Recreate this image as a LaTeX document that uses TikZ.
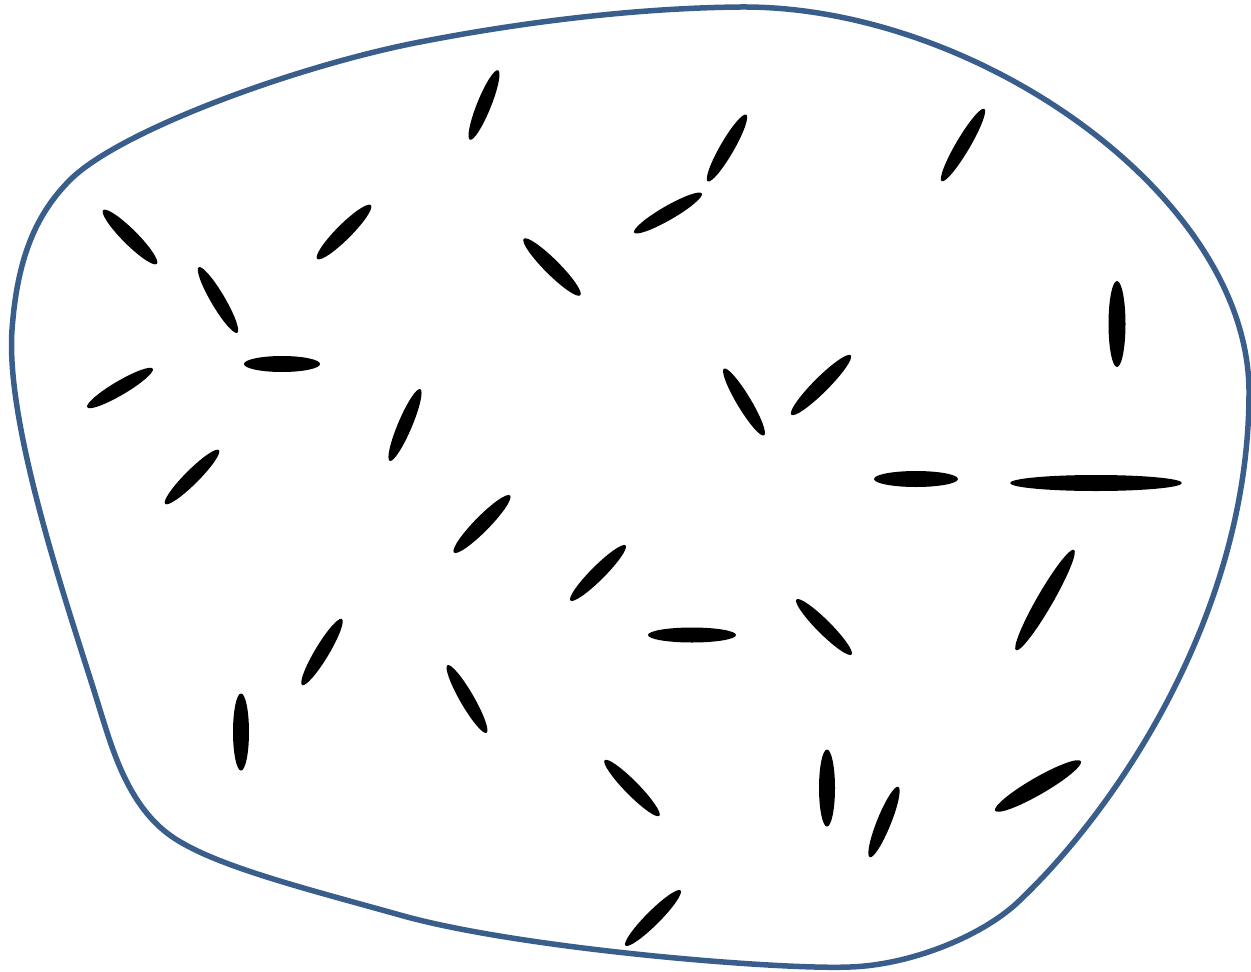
\documentclass[tikz,border=0pt]{standalone}
\definecolor{blobblue}{RGB}{58,94,140}
\tikzset{
  molstyle/.style={fill=black},
  blobstyle/.style={draw=blobblue, line width=5.5pt, line join=round}
}
\newcommand{\molecule}[5]{\fill[molstyle, rotate around={#3:(#1,-#2)}] (#1,-#2) ellipse [x radius=#4pt, y radius=#5pt];}
\begin{document}
\begin{tikzpicture}[x=1pt,y=1pt]
\useasboundingbox (0,0) rectangle (1251,-972);
\draw[blobstyle] (740,-7) .. controls (975,-5) and (1247,-195) .. (1249,-390)
 .. controls (1250,-610) and (1119,-807) .. (1017,-903)
 .. controls (980,-937) and (910,-965) .. (850,-967)
 .. controls (780,-970) and (520,-949) .. (400,-915)
 .. controls (300,-887) and (207,-864) .. (167,-833)
 .. controls (127,-802) and (112,-748) .. (100,-710)
 .. controls (74,-624) and (5,-430) .. (12,-330)
 .. controls (17,-260) and (35,-215) .. (70,-180)
 .. controls (120,-130) and (300,-65) .. (420,-42)
 .. controls (528,-21) and (640,-8) .. (740,-7) -- cycle;
\molecule{484}{105}{68}{37.5}{7}
\molecule{727}{148}{60}{38.5}{7}
\molecule{963}{145}{59.5}{42}{7}
\molecule{130}{237}{-45}{38}{7.5}
\molecule{344}{232}{45}{38}{7.5}
\molecule{668}{213}{30}{39}{7}
\molecule{552}{267}{-45}{40}{7.5}
\molecule{218}{300}{-59.5}{38}{7}
\molecule{282}{364}{0}{38}{8}
\molecule{1117}{324}{90}{43}{8.5}
\molecule{120}{388}{30.5}{38}{7}
\molecule{405}{425}{67}{39}{7}
\molecule{744}{402}{-59}{39}{7}
\molecule{821}{385}{45}{42}{7.5}
\molecule{916}{479}{0}{42}{8}
\molecule{1096}{483}{0}{86}{8}
\molecule{192}{477}{45}{38}{7}
\molecule{482}{524}{45.5}{40}{7.5}
\molecule{598}{573}{45}{39}{7}
\molecule{692}{635}{0}{44}{7.5}
\molecule{824}{627}{-45}{39}{7}
\molecule{1045}{600}{60}{58}{8}
\molecule{322}{652}{59}{38.5}{7}
\molecule{467}{699}{-60}{39}{7}
\molecule{241}{732}{90}{38.5}{8}
\molecule{632}{788}{-45.5}{39}{7}
\molecule{827}{788}{90}{38.5}{8}
\molecule{884}{822}{68}{38}{7}
\molecule{1038}{786}{30}{49.5}{8.5}
\molecule{653}{918}{45}{39}{7}
\end{tikzpicture}
\end{document}
